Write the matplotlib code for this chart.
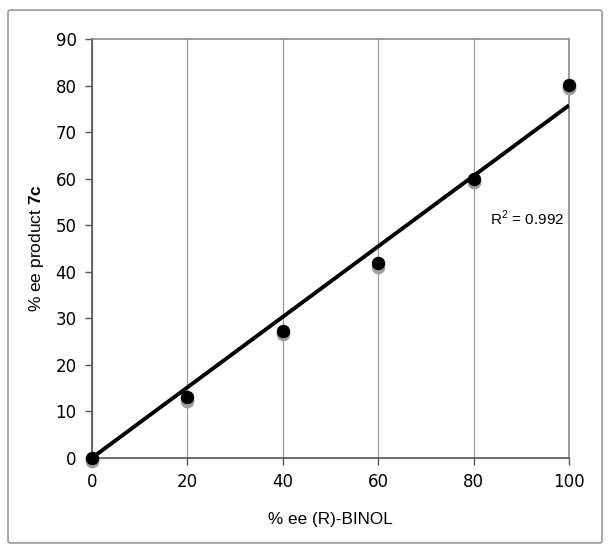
import numpy as np
import matplotlib
matplotlib.use('Agg')
import matplotlib.pyplot as plt
from matplotlib.patches import FancyBboxPatch

# data
ee_binol = [0, 20, 40, 60, 80, 100]
ee_product = [0, 13.0, 27.3, 41.8, 60.0, 80.1]
x_ticks = [0, 20, 40, 60, 80, 100]
y_ticks = [0, 10, 20, 30, 40, 50, 60, 70, 80, 90]

plt.rcParams['mathtext.fontset'] = 'custom'
plt.rcParams['mathtext.rm'] = 'Liberation Sans'
plt.rcParams['mathtext.bf'] = 'Liberation Sans:bold'

x = np.array(ee_binol, dtype=float)
y = np.array(ee_product, dtype=float)

# trendline forced through the origin, as excel does
slope = np.sum(x * y) / np.sum(x * x)
fit = slope * x

fig = plt.figure(figsize=(6.12, 5.53), dpi=100)
fig.patch.set_facecolor('white')

# grey frame round the whole chart
frame = FancyBboxPatch((8 / 612, 10 / 553), 594 / 612, 533 / 553,
                       boxstyle='round,pad=0,rounding_size=0.004',
                       transform=fig.transFigure, fill=False,
                       edgecolor='#9a9a9a', linewidth=1.2)
fig.patches.append(frame)

ax = fig.add_axes([0.150, 0.1718, 0.780, 0.7577])
ax.set_xlim(0, 100)
ax.set_ylim(0, 90)
ax.set_xticks(x_ticks)
ax.set_yticks(y_ticks)

for s in ax.spines.values():
    s.set_color('#8a8a8a')
    s.set_linewidth(1.2)
ax.spines['left'].set_color('#555555')
ax.spines['bottom'].set_color('#555555')

ax.grid(axis='x', color='#9a9a9a', linewidth=0.9)
ax.set_axisbelow(True)
ax.tick_params(direction='out', length=5, width=1, color='#555555',
               labelsize=12, pad=6)
for lab in ax.get_xticklabels() + ax.get_yticklabels():
    lab.set_family('DejaVu Sans')

# shadow, then markers
ax.scatter(x, y - 0.7, s=80, color='#a0a0a0', zorder=3, clip_on=False)
ax.plot(x, fit, color='black', linewidth=2.8, zorder=4,
        solid_capstyle='butt')
ax.scatter(x, y, s=75, color='black', zorder=5, clip_on=False)

ax.text(83.4, 51.5, 'R$^2$ = 0.992', fontsize=11, family='Liberation Sans',
        va='center', ha='left')

ax.set_xlabel('% ee (R)-BINOL', fontsize=12.3, family='Liberation Sans',
              labelpad=15)
ax.set_ylabel('% ee product $\\mathbf{7c}$', fontsize=12.5,
              family='Liberation Sans', labelpad=7)

fig.savefig('out.png', dpi=100)
